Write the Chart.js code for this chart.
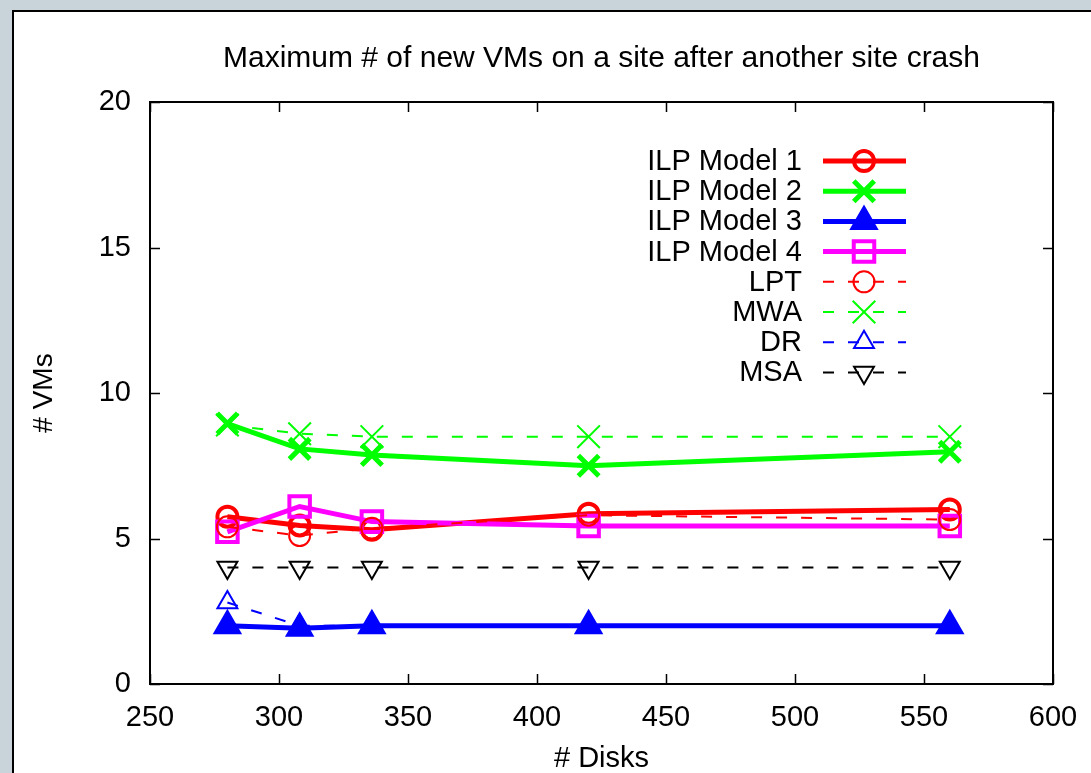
<!DOCTYPE html>
<html><head><meta charset="utf-8">
<script src="https://cdn.jsdelivr.net/npm/chart.js@4.4.0/dist/chart.umd.min.js"></script>
<style>
html,body{margin:0;padding:0;background:#c8d3da;overflow:hidden}
#c{position:absolute;left:0;top:0}
</style></head>
<body>
<canvas id="c" width="1091" height="773"></canvas>
<script>
// ---- data ----
const disks = [280, 308, 336, 420, 560];
const ilpModel1 = [5.75, 5.45, 5.3, 5.85, 6.0];
const ilpModel2 = [8.95, 8.08, 7.87, 7.5, 7.98];
const ilpModel3 = [2.0, 1.92, 2.0, 2.0, 2.0];
const ilpModel4 = [5.23, 6.1, 5.58, 5.43, 5.43];
const lpt = [5.4, 5.1, 5.35, 5.8, 5.65];
const mwa = [8.9, 8.6, 8.5, 8.5, 8.5];
const dr = [2.8, 2.0, 2.0, 2.0, 2.0];
const msa = [4, 4, 4, 4, 4];
const seriesNames = ['ILP Model 1', 'ILP Model 2', 'ILP Model 3', 'ILP Model 4', 'LPT', 'MWA', 'DR', 'MSA'];
const xTicks = [250, 300, 350, 400, 450, 500, 550, 600];
const yTicks = [0, 5, 10, 15, 20];
const titleText = 'Maximum # of new VMs on a site after another site crash';
const xTitle = '# Disks';
const yTitle = '# VMs';

const FONT = '"Liberation Sans", Arial, Helvetica, sans-serif';
const TRANSPARENT = 'rgba(0,0,0,0)';
const DASH = [11, 14];

function pts(vals) { return disks.map((x, i) => ({ x: x, y: vals[i] })); }

const styles = [
  { color: '#ff0000', width: 5, dash: [], pointStyle: 'circle', radius: 10, pbw: 4, fill: TRANSPARENT, rot: 0 },
  { color: '#00ff00', width: 5, dash: [], pointStyle: 'crossRot', radius: 14.5, pbw: 5, fill: TRANSPARENT, rot: 0 },
  { color: '#0000ff', width: 5, dash: [], pointStyle: 'triangle', radius: 14, pbw: 3, fill: '#0000ff', rot: 0 },
  { color: '#ff00ff', width: 5, dash: [], pointStyle: 'rect', radius: 14.5, pbw: 4, fill: TRANSPARENT, rot: 0 },
  { color: '#ff0000', width: 2, dash: DASH, pointStyle: 'circle', radius: 10.5, pbw: 2, fill: TRANSPARENT, rot: 0 },
  { color: '#00ff00', width: 2, dash: DASH, pointStyle: 'crossRot', radius: 16, pbw: 2, fill: TRANSPARENT, rot: 0 },
  { color: '#0000ff', width: 2, dash: DASH, pointStyle: 'triangle', radius: 11.5, pbw: 2, fill: TRANSPARENT, rot: 0 },
  { color: '#000000', width: 2, dash: DASH, pointStyle: 'triangle', radius: 11.5, pbw: 2, fill: TRANSPARENT, rot: 180 }
];
const values = [ilpModel1, ilpModel2, ilpModel3, ilpModel4, lpt, mwa, dr, msa];

const datasets = values.map((v, i) => {
  const s = styles[i];
  return {
    label: seriesNames[i],
    data: pts(v),
    borderColor: s.color,
    borderWidth: s.width,
    borderDash: s.dash,
    backgroundColor: s.fill,
    fill: false,
    tension: 0,
    pointStyle: s.pointStyle,
    pointRadius: s.radius,
    pointHoverRadius: s.radius,
    pointBorderWidth: s.pbw,
    pointBorderColor: s.color,
    pointBackgroundColor: s.fill,
    pointRotation: s.rot,
    order: values.length - i
  };
});

const pagePlugin = {
  id: 'page',
  beforeDraw(chart) {
    const ctx = chart.ctx;
    ctx.save();
    ctx.fillStyle = '#c8d3da';
    ctx.fillRect(0, 0, chart.width, chart.height);
    ctx.fillStyle = '#ffffff';
    ctx.fillRect(12, 10, chart.width - 12, chart.height - 10);
    ctx.fillStyle = '#000000';
    ctx.fillRect(12, 10, chart.width - 12, 2);
    ctx.fillRect(12, 10, 2, chart.height - 10);
    ctx.restore();
  },
  beforeDatasetsDraw(chart) {
    const ctx = chart.ctx;
    const a = chart.chartArea;
    const xs = chart.scales.x, ys = chart.scales.y;
    ctx.save();
    // title, centred over the plot area
    ctx.fillStyle = '#000';
    ctx.font = '30px ' + FONT;
    ctx.textAlign = 'center';
    ctx.textBaseline = 'middle';
    ctx.fillText(titleText, (a.left + a.right) / 2, 59);
    ctx.strokeStyle = '#000';
    ctx.lineWidth = 1.5;
    const L = 10;
    ctx.beginPath();
    xTicks.forEach(v => {
      const px = Math.round(xs.getPixelForValue(v)) + 0.5;
      ctx.moveTo(px, a.bottom); ctx.lineTo(px, a.bottom - L);
      ctx.moveTo(px, a.top); ctx.lineTo(px, a.top + L);
    });
    yTicks.forEach(v => {
      const py = Math.round(ys.getPixelForValue(v)) + 0.5;
      ctx.moveTo(a.left, py); ctx.lineTo(a.left + L, py);
      ctx.moveTo(a.right, py); ctx.lineTo(a.right - L, py);
    });
    ctx.stroke();
    ctx.lineWidth = 2;
    ctx.strokeRect(a.left, a.top, a.right - a.left, a.bottom - a.top);
    ctx.restore();
  },
  afterDraw(chart) {
    const ctx = chart.ctx;
    ctx.save();
    const textRight = 802, lineL = 823, lineR = 906, mx = 864;
    const y0 = 161, dy = 30.2;
    ctx.font = '29px ' + FONT;
    ctx.textAlign = 'right';
    ctx.textBaseline = 'middle';
    seriesNames.forEach((name, i) => {
      const s = styles[i];
      const y = y0 + i * dy;
      ctx.fillStyle = '#000';
      ctx.fillText(name, textRight, y + 1);
      ctx.strokeStyle = s.color;
      ctx.lineWidth = s.width;
      ctx.setLineDash(s.dash);
      ctx.beginPath();
      ctx.moveTo(lineL, y); ctx.lineTo(lineR, y);
      ctx.stroke();
      ctx.setLineDash([]);
      ctx.lineWidth = s.pbw;
      ctx.fillStyle = s.fill;
      Chart.helpers.drawPoint(ctx, { pointStyle: s.pointStyle, rotation: s.rot, radius: s.radius, borderWidth: s.pbw }, mx, y);
    });
    ctx.restore();
  }
};

new Chart(document.getElementById('c'), {
  type: 'line',
  data: { datasets: datasets },
  plugins: [pagePlugin],
  options: {
    responsive: false,
    animation: false,
    events: [],
    layout: { padding: { left: 0, right: 38, top: 102, bottom: 0 } },
    plugins: {
      legend: { display: false },
      tooltip: { enabled: false },
      title: { display: false }
    },
    scales: {
      x: {
        type: 'linear', min: 250, max: 600,
        afterBuildTicks(s) { s.ticks = xTicks.map(v => ({ value: v })); },
        ticks: { color: '#000', font: { family: FONT, size: 29 }, padding: 17, maxRotation: 0, autoSkip: false },
        grid: { display: false, drawTicks: false },
        border: { display: false },
        title: { display: true, text: xTitle, color: '#000', font: { family: FONT, size: 29, lineHeight: 1 }, padding: { top: 0, bottom: 0 } },
        afterFit(s) { s.height = 89; s.paddingRight = 0; s.paddingLeft = 0; }
      },
      y: {
        type: 'linear', min: 0, max: 20,
        afterBuildTicks(s) { s.ticks = yTicks.map(v => ({ value: v })); },
        ticks: { color: '#000', font: { family: FONT, size: 29 }, padding: 19, autoSkip: false },
        grid: { display: false, drawTicks: false },
        border: { display: false },
        title: { display: true, text: yTitle, color: '#000', font: { family: FONT, size: 28, lineHeight: 1.2 }, padding: { top: 27, bottom: 0 } },
        afterFit(s) { s.width = 150; s.paddingTop = 0; s.paddingBottom = 0; }
      }
    }
  }
});
</script>
</body></html>
